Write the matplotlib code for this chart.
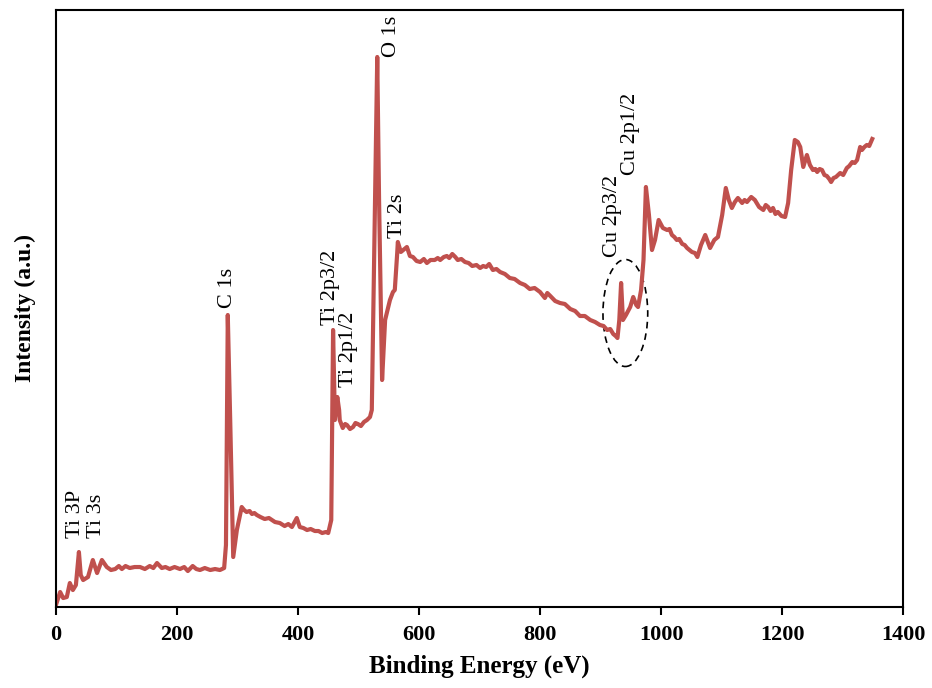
import matplotlib.pyplot as plt
from matplotlib.patches import Ellipse

# XPS survey spectrum
energy = [0, 7, 12, 18, 23, 28, 33, 38, 41, 45, 53, 61, 68, 76, 84, 91, 98, 104, 109, 115,
          122, 130, 139, 147, 155, 161, 167, 175, 181, 188, 196, 205, 212, 218, 226, 232, 238,
          246, 255, 263, 271, 278, 281, 284, 288, 293, 299, 307, 311, 315, 320,
          324, 328, 332, 338, 345, 352, 362, 370, 378, 384, 390, 398, 403, 409, 415, 421, 428,
          434, 440, 446, 450, 455, 458, 461, 465, 468,
          469, 474, 478, 481, 486, 491, 495, 499, 504, 509, 514, 519, 522, 526, 531, 534, 539,
          544, 552, 557, 560, 564,
          565, 570, 574, 580, 585, 590, 596, 602, 608, 613, 619, 626, 631, 635, 641, 646, 650,
          655, 660, 664, 670, 676, 682, 688, 695, 701, 706, 711,
          716, 722, 728, 734, 742, 750, 758, 767, 775, 783, 791, 800, 804, 808, 812, 817, 825,
          833, 841, 850, 858, 866, 874, 883, 891, 899, 905, 911, 916, 921, 925, 928,
          931, 934, 937, 942, 949, 954, 959, 962, 967, 971, 975, 980, 985, 990, 996, 1003, 1010,
          1014, 1018, 1022, 1026, 1030, 1035, 1039, 1043, 1047, 1051, 1056, 1060, 1066, 1073,
          1081, 1088, 1094, 1101, 1107, 1112,
          1117, 1122, 1127, 1134, 1138, 1142, 1149, 1155, 1162, 1169, 1173, 1177, 1181, 1185,
          1189, 1193, 1199, 1205, 1210, 1215,
          1221, 1226, 1230, 1235, 1241, 1246, 1251, 1255, 1258, 1262, 1266, 1270, 1274, 1278,
          1281, 1285, 1289, 1296, 1301, 1307, 1311, 1316,
          1320, 1324, 1329, 1332, 1336, 1340, 1344, 1349]
intensity = [2, 15, 9, 10, 24, 17, 22, 55, 32, 27, 30, 47, 34, 47, 40, 37, 38, 41, 38, 41,
             39, 40, 40, 38, 41, 39, 44, 39, 40, 38, 40, 38, 40, 36, 41, 38, 37,
             39, 37, 38, 37, 39, 62, 292, 187, 50, 77, 100, 97, 95, 96,
             93, 94, 92, 90, 88, 89, 85, 84, 81, 83, 80, 89, 80, 79, 77, 78, 76,
             76, 74, 75, 74, 87, 277, 187, 210, 197,
             187, 179, 183, 182, 178, 180, 184, 183, 181, 185, 187, 190, 197, 357, 550, 407, 227,
             287, 307, 315, 317, 354,
             365, 355, 357, 360, 351, 350, 346, 345, 348, 344, 347, 347, 349, 347, 350, 351, 349,
             353, 350, 347, 348, 345, 344, 341, 342, 339, 341, 340,
             343, 337, 338, 335, 333, 329, 328, 324, 322, 318, 319, 315, 312, 309, 314, 311, 306,
             304, 303, 298, 296, 291, 291, 287, 285, 282, 281, 277, 278, 273, 271, 269,
             287, 324, 287, 292, 300, 310, 302, 300, 317, 347, 420, 392, 357, 367, 387, 379, 377,
             378, 372, 370, 367, 368, 363, 362, 359, 357, 355, 354, 350, 362, 372,
             359, 367, 370, 392, 419, 407,
             399, 405, 409, 404, 407, 405, 410, 407, 400, 397, 402, 400, 396, 399,
             393, 395, 391, 390, 404, 437,
             467, 465, 460, 440, 452, 442, 437, 438, 435, 438, 437, 432, 431, 428,
             425, 429, 430, 434, 432, 439, 441, 445,
             444, 447, 460, 457, 460, 462, 461, 468]

peak_labels = ['Ti 3P', 'Ti 3s', 'C 1s', 'Ti 2p3/2', 'Ti 2p1/2', 'O 1s', 'Ti 2s', 'Cu 2p3/2', 'Cu 2p1/2']
label_x = [33, 67, 284, 453, 483, 554, 564, 920, 950]
label_y = [69, 69, 299, 282, 220, 550, 369, 350, 432]

xticks = [0, 200, 400, 600, 800, 1000, 1200, 1400]

plt.rcParams['font.family'] = ['Liberation Serif', 'DejaVu Serif']

fig = plt.figure(figsize=(9.32, 6.88), dpi=100)
ax = fig.add_axes([0.060, 0.1177, 0.909, 0.8678])

ax.plot(energy, intensity, color='#C0504D', linewidth=3, solid_joinstyle='round')

for txt, lx, ly in zip(peak_labels, label_x, label_y):
    ax.text(lx, ly, txt, rotation=90, ha='center', va='bottom', fontsize=16)

# dashed ellipse around the Cu 2p3/2 peak
ax.add_patch(Ellipse((941, 294), 74, 107, fill=False, linestyle=(0, (4, 3)),
                     edgecolor='black', linewidth=1.2))

ax.set_xlim(0, 1400)
ax.set_ylim(0, 597)
ax.set_xticks(xticks)
ax.set_yticks([])
ax.tick_params(axis='x', direction='out', length=6, width=1.5, labelsize=16, pad=7)
for lbl in ax.get_xticklabels():
    lbl.set_fontweight('bold')
for sp in ax.spines.values():
    sp.set_linewidth(1.5)

ax.set_xlabel('Binding Energy (eV)', fontsize=18, fontweight='bold', labelpad=7)
ax.set_ylabel('Intensity (a.u.)', fontsize=17, fontweight='bold', labelpad=14)

fig.savefig('out.png', dpi=100)
